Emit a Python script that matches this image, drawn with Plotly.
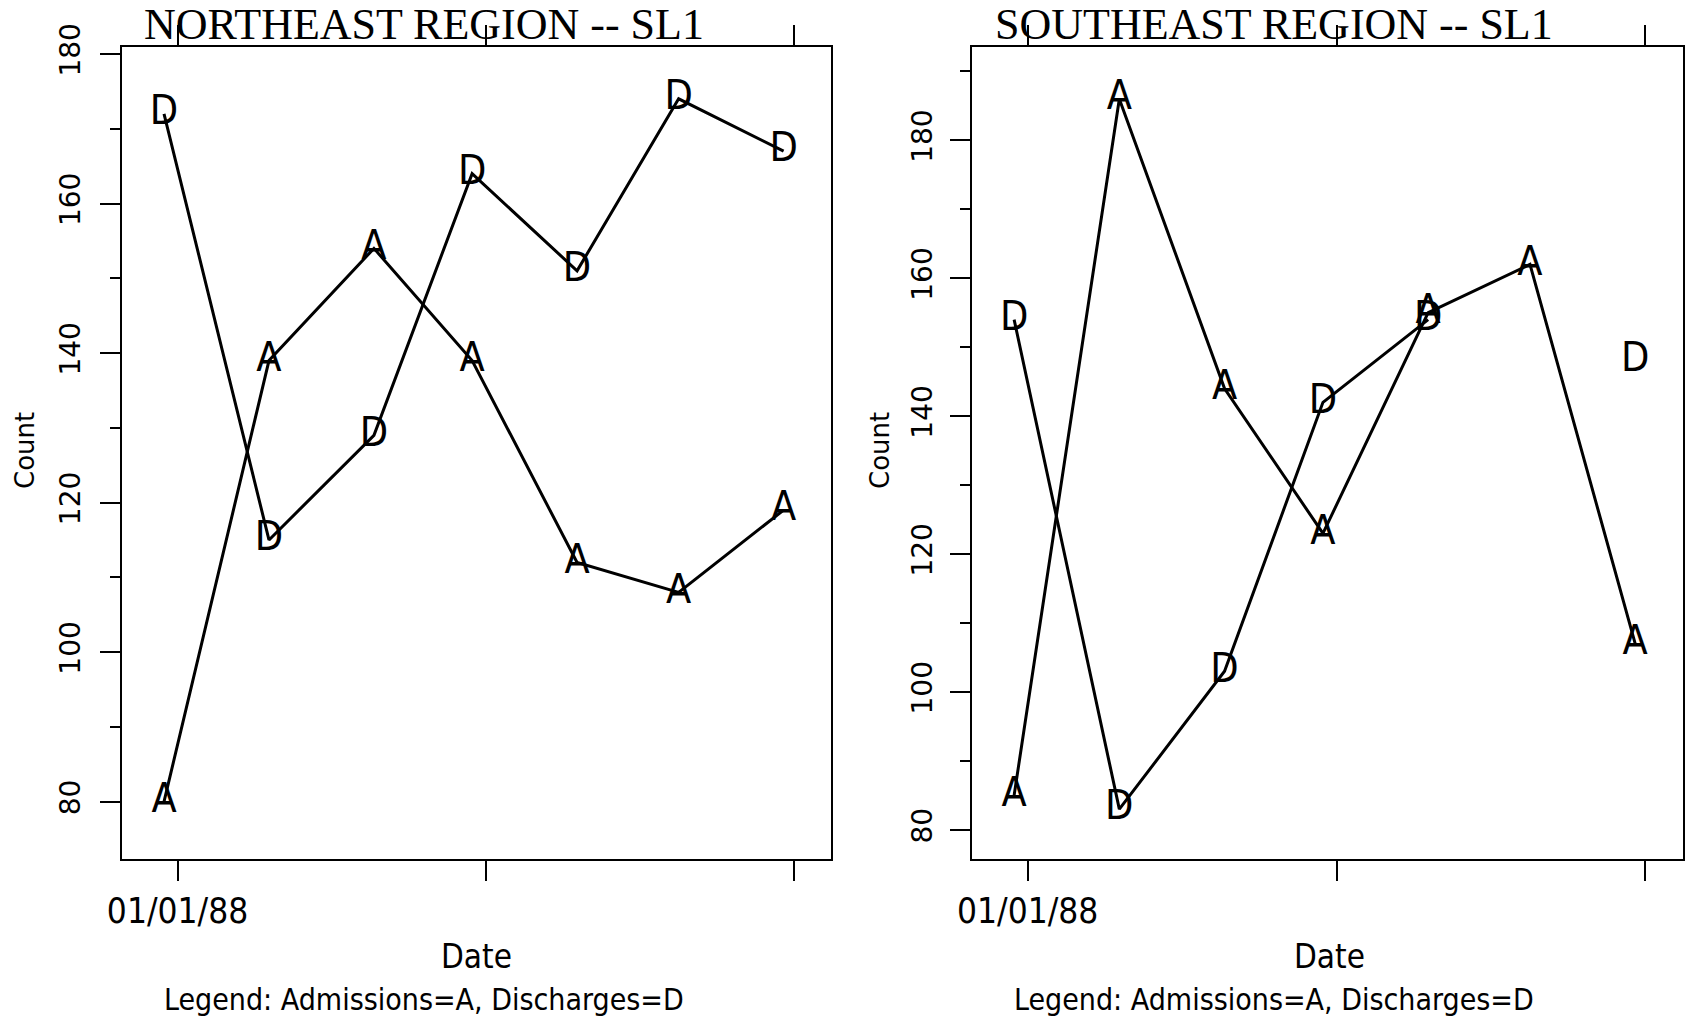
import plotly.graph_objects as go

# ---- data ----
dates = ["1987-12-28", "1988-01-28", "1988-02-28", "1988-03-28",
         "1988-04-28", "1988-05-28", "1988-06-28"]
ne_admissions = [80, 139, 154, 139, 112, 108, 119]
ne_discharges = [172, 115, 129, 164, 151, 174, 167]
se_admissions = [85, 186, 144, 123, 155, 162, 107]
se_discharges = [154, 83, 103, 142, 154, None, 148]
x_tickvals = ["1988-01-01", "1988-04-01", "1988-07-01"]
x_ticktext = ["01/01/88", "", ""]
panel_titles = ["NORTHEAST REGION -- SL1", "SOUTHEAST REGION -- SL1"]
legend_text = "Legend: Admissions=A, Discharges=D"

W, H = 1688, 1016
dom_x = [[121.7 / W, 831 / W], [971.7 / W, 1682.7 / W]]
dom_y = [1 - 858.5 / H, 1 - 46.5 / H]
y_ranges = [[72.4, 181.0], [75.85, 193.6]]
x_range = ["1987-12-15 12:00", "1988-07-12 00:00"]

SANS = "DejaVu Sans"
COND = "DejaVu Sans Condensed"
SERIF = "Liberation Serif"

fig = go.Figure()

series = [(ne_admissions, ne_discharges), (se_admissions, se_discharges)]
for i, (adm, dis) in enumerate(series):
    xa = "x" if i == 0 else "x2"
    ya = "y" if i == 0 else "y2"
    for vals, letter in ((adm, "A"), (dis, "D")):
        fig.add_trace(go.Scatter(
            x=dates, y=vals, mode="lines+text",
            text=[letter] * len(vals), textposition="middle center",
            textfont=dict(family=COND, size=41, color="black", weight=200),
            line=dict(color="black", width=3),
            xaxis=xa, yaxis=ya, showlegend=False, cliponaxis=False,
            connectgaps=False, hoverinfo="skip"))

axis_common_x = dict(
    type="date", range=x_range, tickvals=x_tickvals, ticktext=x_ticktext,
    ticks="outside", ticklen=20, tickwidth=2, tickcolor="black",
    showline=True, linecolor="black", linewidth=2, mirror="ticks",
    showgrid=False, zeroline=False, automargin=False,
    tickfont=dict(family=COND, size=35, color="black"))

for i in range(2):
    sfx = "" if i == 0 else "2"
    fig.layout["xaxis" + sfx] = dict(axis_common_x, domain=dom_x[i],
                                     anchor="y" + sfx)
    fig.layout["yaxis" + sfx] = dict(
        domain=dom_y, anchor="x" + sfx, range=y_ranges[i],
        tickmode="linear", tick0=0, dtick=20,
        ticks="outside", ticklen=20, tickwidth=2, tickcolor="black",
        minor=dict(dtick=10, tick0=0, ticks="outside", ticklen=10,
                   tickwidth=2, tickcolor="black", showgrid=False),
        showline=True, linecolor="black", linewidth=2, mirror=True,
        showgrid=False, zeroline=False, tickangle=-90, automargin=False,
        ticklabelstandoff=(9 if i == 0 else 7),
        tickfont=dict(family=SANS, size=28, color="black"))
    # right-side ticks every 10
    rsfx = str(3 + i)
    fig.layout["yaxis" + rsfx] = dict(
        overlaying="y" + sfx, anchor="x" + sfx, side="right",
        range=y_ranges[i], tickmode="linear", tick0=0, dtick=10,
        ticks="outside", ticklen=19, tickwidth=2, tickcolor="black",
        showticklabels=False, showline=False, showgrid=False,
        zeroline=False, automargin=False)

annotations = []
centers = [424, 1274]
for i in range(2):
    annotations.append(dict(
        text=panel_titles[i], x=centers[i] / W, y=1 - 25 / H,
        xref="paper", yref="paper", showarrow=False,
        xanchor="center", yanchor="middle",
        font=dict(family=SERIF, size=44, color="black")))
    annotations.append(dict(
        text="Count", x=(25 if i == 0 else 880) / W, y=1 - 451 / H,
        xref="paper", yref="paper", showarrow=False, textangle=-90,
        xanchor="center", yanchor="middle",
        font=dict(family=SANS, size=26, color="black")))
    annotations.append(dict(
        text="Date", x=(476 if i == 0 else 1329) / W, y=1 - 956 / H,
        xref="paper", yref="paper", showarrow=False,
        xanchor="center", yanchor="middle",
        font=dict(family=COND, size=33, color="black")))
    annotations.append(dict(
        text=legend_text, x=centers[i] / W, y=1 - 999 / H,
        xref="paper", yref="paper", showarrow=False,
        xanchor="center", yanchor="middle",
        font=dict(family=COND, size=30, color="black")))

fig.update_layout(
    template="none",
    width=W, height=H, margin=dict(l=0, r=0, t=0, b=0, pad=0),
    paper_bgcolor="white", plot_bgcolor="white",
    annotations=annotations, showlegend=False)

fig.write_html("out.html")
